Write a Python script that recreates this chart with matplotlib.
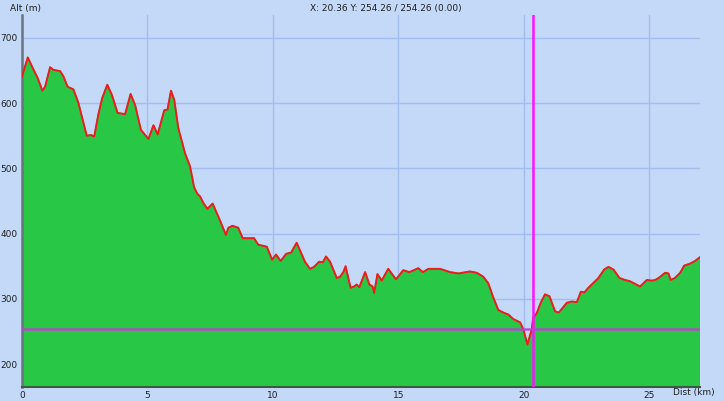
import numpy as np
import matplotlib
matplotlib.use('Agg')
import matplotlib.pyplot as plt

# elevation profile (km, m)
jarak = [0.0, 0.23, 0.45, 0.63, 0.81, 0.92, 1.12, 1.25, 1.52, 1.65, 1.82, 2.05, 2.25,
         2.58, 2.75, 2.88, 3.04, 3.2, 3.4, 3.58, 3.81, 4.11, 4.33, 4.51, 4.74, 5.04,
         5.24, 5.41, 5.67, 5.8, 5.94, 6.07, 6.23, 6.5, 6.7, 6.86, 6.99, 7.1, 7.23,
         7.39, 7.6, 7.83, 8.13, 8.23, 8.39, 8.62, 8.8, 9.25, 9.42, 9.76, 9.97, 10.13,
         10.31, 10.53, 10.73, 10.95, 11.28, 11.48, 11.64, 11.85, 11.99, 12.12, 12.28,
         12.55, 12.68, 12.81, 12.9, 13.1, 13.24, 13.34, 13.45, 13.68, 13.85, 13.98,
         14.04, 14.17, 14.34, 14.6, 14.91, 15.2, 15.44, 15.8, 15.98, 16.2, 16.67,
         17.07, 17.4, 17.86, 18.13, 18.39, 18.59, 18.77, 18.99, 19.19, 19.39, 19.59,
         19.86, 19.99, 20.15, 20.26, 20.32, 20.38, 20.52, 20.68, 20.85, 21.03, 21.25,
         21.4, 21.72, 21.92, 22.12, 22.28, 22.42, 22.58, 22.98, 23.21, 23.38, 23.58,
         23.82, 24.04, 24.24, 24.64, 24.91, 25.11, 25.24, 25.38, 25.64, 25.77, 25.86,
         26.03, 26.24, 26.4, 26.63, 26.83, 27.03]
tinggi = [641, 670, 652, 638, 619, 625, 655, 651, 649, 641, 625, 621, 600,
          550, 551, 549, 582, 608, 628, 613, 585, 583, 614, 597, 559, 545,
          566, 552, 589, 590, 619, 605, 562, 523, 503, 471, 461, 457, 447,
          438, 446, 426, 398, 409, 412, 409, 393, 393, 383, 380, 360, 368,
          358, 369, 371, 386, 357, 346, 349, 357, 356, 365, 357,
          332, 334, 341, 350, 317, 319, 322, 318, 341, 322, 319,
          309, 338, 328, 346, 330, 344, 341, 347, 341, 346, 346,
          341, 339, 342, 340, 334, 324, 304, 283, 279, 276, 269,
          264, 253, 230, 245, 253, 271, 278, 294, 307, 304, 281,
          279, 294, 296, 295, 311, 310, 317, 332, 345, 349, 345,
          332, 329, 327, 319, 329, 328, 329, 332, 340, 339, 329,
          332, 340, 351, 354, 358, 364]

# cursor position
kursorX = 20.36
kursorY = 254.26
judul = 'X: 20.36 Y: 254.26 / 254.26 (0.00)'
tickerSumbuX = np.arange(0, 26, 5)
tickerSumbuY = np.arange(200, 701, 100)

latar = '#c3d9f7'

fig = plt.figure(figsize=(7.24, 4.01), dpi=100, facecolor=latar)
ax = fig.add_axes([22/724, 1-387/401, 678/724, 372/401])
ax.set_facecolor(latar)

ax.fill_between(jarak, tinggi, 0, color='#28c846', zorder=2)
ax.plot(jarak, tinggi, color='#ee1c1c', lw=1.4, zorder=3)

ax.axvline(kursorX, color='#ff10ff', lw=1.8, zorder=4)
ax.axhline(kursorY, color='#c040d0', lw=1.8, alpha=0.9, zorder=4)

ax.set_xlim(0, 27.03)
ax.set_ylim(165, 735)
ax.set_xticks(tickerSumbuX)
ax.set_yticks(tickerSumbuY)
ax.grid(color='#a3bdf3', lw=1, zorder=1)
ax.set_axisbelow(True)
ax.tick_params(axis='both', length=0, labelsize=6.5, colors='#202020', pad=3)

ax.spines['top'].set_visible(False)
ax.spines['right'].set_visible(False)
ax.spines['left'].set_color('#6a7480')
ax.spines['left'].set_linewidth(1.8)
ax.spines['bottom'].set_color('#3c5a40')
ax.spines['bottom'].set_linewidth(1.5)

fig.text(10/724, 1-8/401, 'Alt (m)', fontsize=6.5, ha='left', va='center', color='#202020')
fig.text(715/724, 1-393/401, 'Dist (km)', fontsize=6.5, ha='right', va='center', color='#202020')
fig.text(310/724, 1-8/401, judul, fontsize=6.5, ha='left', va='center', color='#202020')

fig.savefig('out.png', dpi=100, facecolor=latar)
plt.close(fig)
